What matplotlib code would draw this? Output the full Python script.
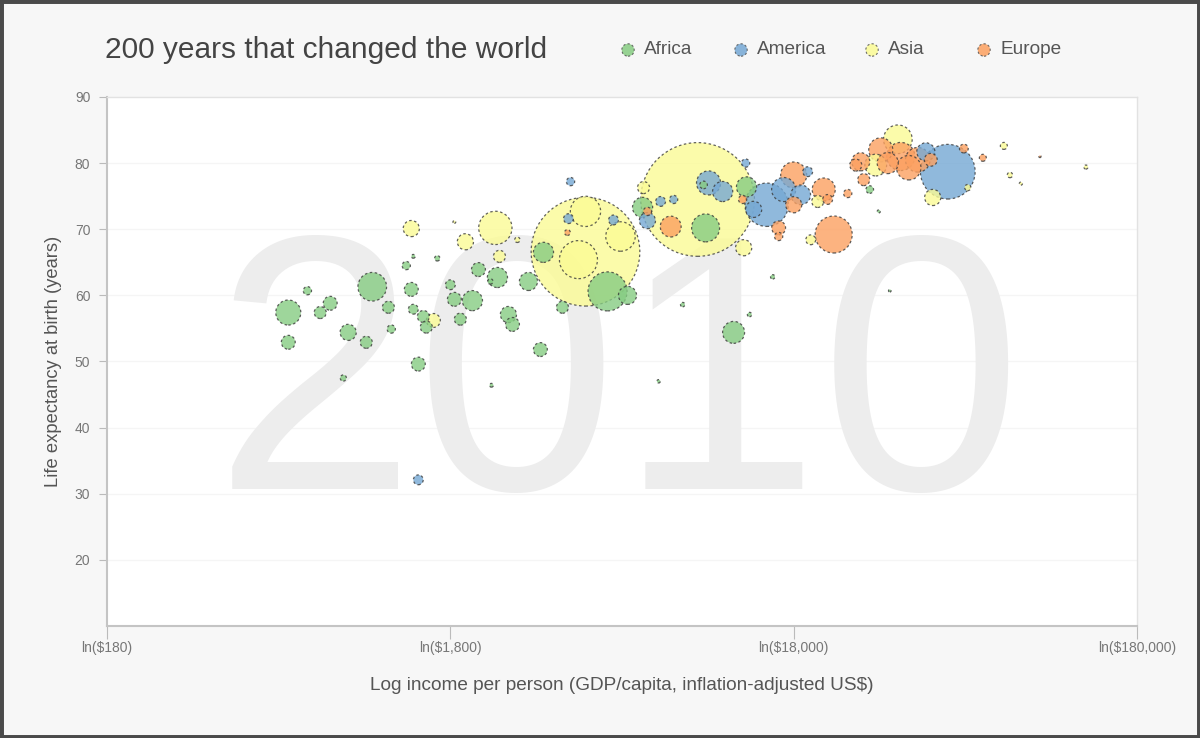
import matplotlib
matplotlib.use("Agg")
import matplotlib.pyplot as plt
from matplotlib.patches import Rectangle
import numpy as np

plt.rcParams["font.family"] = ["Liberation Sans", "DejaVu Sans"]

# income per person (US$), life expectancy (years), population (millions)
africa_income = [607, 607, 690, 752, 804, 907, 878, 1024, 1066, 1188, 1211, 1339, 1385,
                 1404, 1452, 1502, 1532, 1404, 1649, 1800, 1849, 1925, 2087, 2173, 2354,
                 2468, 2657, 2730, 3292, 3039, 3361, 3818, 5166, 5905, 6534, 9970, 12030,
                 13120, 15640, 13390, 34300, 29980, 8550, 7275, 2371, 9834, 31860]
africa_life = [57.4, 52.9, 60.7, 57.4, 58.8, 54.4, 47.5, 52.9, 61.3, 58.2, 54.9, 64.5, 60.9,
               57.9, 49.6, 56.8, 55.2, 65.9, 65.6, 61.6, 59.4, 56.4, 59.2, 63.9, 62.1,
               62.7, 57.1, 55.6, 51.8, 62.1, 66.5, 58.2, 60.6, 60.0, 73.3, 70.2, 54.4,
               76.4, 62.8, 57.1, 60.7, 76.0, 58.6, 47.0, 46.4, 76.7, 72.7]
africa_pop = [65, 20, 7, 15, 20, 27, 4, 15, 85, 15, 7, 7, 20,
              10, 20, 15, 15, 1.5, 3, 10, 20, 15, 42, 20, 3,
              42, 27, 20, 20, 34, 42, 15, 158, 34, 42, 81, 50,
              42, 2, 2, 0.7, 6, 2, 1.2, 1.5, 6, 1]

america_income = [1452, 4030, 3975, 5377, 6750, 7373, 8045, 10170, 11180, 13040, 15010,
                  16830, 18870, 19770, 50600, 43670, 13760]
america_life = [32.1, 77.2, 71.6, 71.4, 71.3, 74.2, 74.5, 77.0, 75.7, 80.0, 73.7,
                76.0, 75.2, 78.7, 78.7, 81.7, 73.0]
america_pop = [10, 7, 10, 10, 27, 10, 7, 60, 42, 7, 195,
               60, 40, 10, 310, 34, 27]

asia_income = [9450, 4455, 4455, 5634, 4250, 2434, 1991, 2502, 1385, 1606, 1849, 2821,
               6575, 12870, 21150, 20180, 36200, 31210, 45730, 57860, 73700, 76780,
               127800, 82620]
asia_life = [74.5, 66.6, 72.7, 68.9, 65.4, 70.2, 68.1, 65.9, 70.1, 56.2, 71.1, 68.4,
             76.3, 67.2, 74.2, 68.4, 83.6, 79.7, 74.8, 76.3, 82.6, 78.2,
             79.4, 76.9]
asia_pop = [1340, 1225, 95, 90, 150, 115, 27, 15, 27, 20, 0.8, 3,
            15, 27, 15, 10, 85, 49, 27, 4, 5, 3,
            1.7, 1]

europe_income = [3947, 6750, 7890, 12780, 18000, 18000, 22020, 22600, 16270, 16270, 23540,
                 25860, 27290, 28220, 28800, 32280, 33820, 36920, 38940, 41380, 45150,
                 56350, 64010, 93870]
europe_life = [69.5, 72.7, 70.4, 74.5, 78.2, 73.7, 76.0, 74.5, 70.2, 68.9, 69.2,
               75.4, 79.7, 80.2, 77.5, 82.0, 80.0, 81.0, 79.3, 80.5, 80.5,
               82.2, 80.8, 81.0]
europe_pop = [3.5, 7, 45, 7, 70, 27, 55, 10, 20, 7, 142,
              7, 15, 34, 15, 60, 46, 82, 62, 63, 17,
              8, 5, 0.5]

regions = ["Africa", "America", "Asia", "Europe"]
colors = {"Africa": "#86cc82", "America": "#75a8d4", "Asia": "#fbfb95", "Europe": "#fca060"}

year_label = "2010"
x_ticks = [180, 1800, 18000, 180000]
x_tick_labels = ["ln($180)", "ln($1,800)", "ln($18,000)", "ln($180,000)"]
y_ticks = [20, 30, 40, 50, 60, 70, 80, 90]

# collect all countries, biggest drawn first so small ones stay visible
inc = np.array(africa_income + america_income + asia_income + europe_income, dtype=float)
life = np.array(africa_life + america_life + asia_life + europe_life, dtype=float)
pop = np.array(africa_pop + america_pop + asia_pop + europe_pop, dtype=float)
reg = (["Africa"] * len(africa_pop) + ["America"] * len(america_pop)
       + ["Asia"] * len(asia_pop) + ["Europe"] * len(europe_pop))
order = np.argsort(-pop)

fig = plt.figure(figsize=(12, 7.38), dpi=100, facecolor="#f7f7f7")
ax = fig.add_axes([0.0892, 0.1518, 0.8583, 0.7168])
ax.set_facecolor("white")

ax.set_xscale("log")
ax.set_xlim(180, 180000)
ax.set_ylim(10, 90)

for yv in y_ticks[:-1]:
    ax.axhline(yv, color="#f5f5f5", lw=1, zorder=0)

ax.text(0.497, 0.436, year_label, transform=ax.transAxes, ha="center", va="center",
        fontsize=262, color="#ededed", zorder=1)

ax.scatter(inc[order], life[order], s=5 * pop[order],
           c=[colors[reg[i]] for i in order], alpha=0.8,
           edgecolors="#3a3a3a", linewidths=0.9, linestyles=(0, (2, 2)), zorder=3)

ax.set_xticks(x_ticks)
ax.set_xticklabels(x_tick_labels)
ax.minorticks_off()
ax.set_yticks(y_ticks)
ax.tick_params(axis="both", colors="#bbbbbb", labelcolor="#777777", labelsize=10)
ax.tick_params(axis="x", length=9, pad=2)
ax.tick_params(axis="y", length=6, pad=6)
for side in ("left", "bottom"):
    ax.spines[side].set_color("#c4c4c4")
    ax.spines[side].set_linewidth(1.5)
for side in ("top", "right"):
    ax.spines[side].set_color("#e2e2e2")
    ax.spines[side].set_linewidth(1)

ax.set_xlabel("Log income per person (GDP/capita, inflation-adjusted US$)",
              fontsize=13.7, color="#555555", labelpad=16)
ax.set_ylabel("Life expectancy at birth (years)", fontsize=13.2, color="#555555", labelpad=9)

fig.text(0.0875, 0.932, "200 years that changed the world", fontsize=21.5,
         color="#444444", va="center", ha="left")

# legend drawn on an overlay so the dashed marker edges match the bubbles
lg = fig.add_axes([0, 0, 1, 1], facecolor="none")
lg.set_xlim(0, 1200)
lg.set_ylim(738, 0)
lg.set_axis_off()
legend_x = [628, 741, 872, 984]
for name, lx in zip(regions, legend_x):
    lg.scatter([lx], [50], s=80, color=colors[name], alpha=0.85, edgecolors="#555555",
               linewidths=0.8, linestyles=(0, (2, 2)))
    lg.text(lx + 16, 50, name, fontsize=13.7, color="#555555", va="center", ha="left")

fig.add_artist(Rectangle((0, 0), 1, 1, transform=fig.transFigure, fill=False,
                         edgecolor="#4a4a4a", lw=5))

fig.savefig("out.png", dpi=100, facecolor=fig.get_facecolor())
